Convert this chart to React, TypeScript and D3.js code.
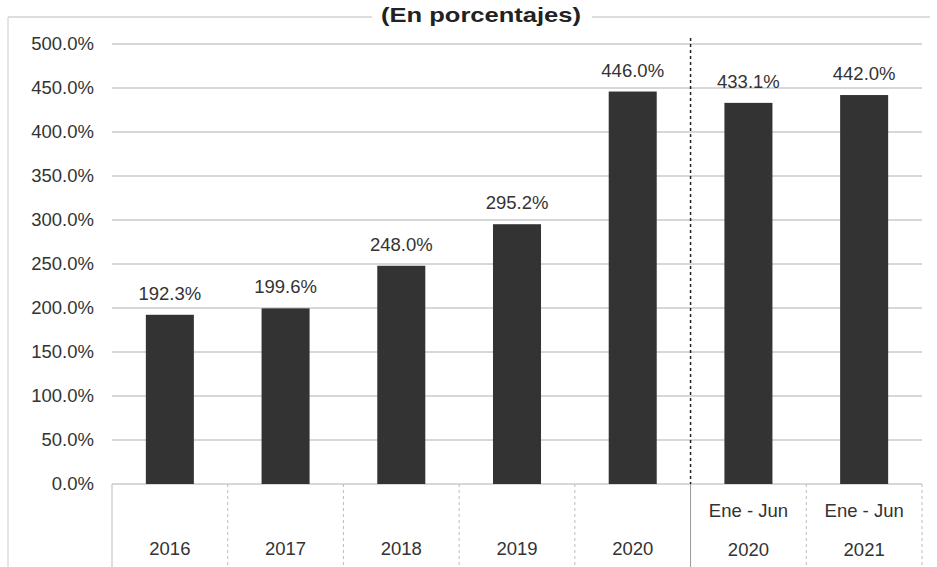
import React from "react";
import * as d3 from "d3";

const categories = ["2016", "2017", "2018", "2019", "2020", "Ene - Jun|2020", "Ene - Jun|2021"];
const values = [192.3, 199.6, 248.0, 295.2, 446.0, 433.1, 442.0];
const yTicks = [0, 50, 100, 150, 200, 250, 300, 350, 400, 450, 500];
const title = "(En porcentajes)";

export default function App() {
  const W = 937, H = 567;
  const left = 112, right = 922, top = 44, bottom = 484;
  const x = d3.scaleBand<string>().domain(categories).range([left, right]).paddingInner(0.585).paddingOuter(0.2925);
  const band = (right - left) / categories.length;
  const y = d3.scaleLinear().domain([0, 500]).range([bottom, top]);
  const font = "'Liberation Sans', Arial, sans-serif";
  const fs = 18.5;
  const bounds = d3.range(categories.length + 1).map((i) => left + i * band);
  return (
    <svg width={W} height={H} style={{ position: "absolute", left: 0, top: 0 }}>
      <rect width={W} height={H} fill="#fff" />
      <line x1={8} x2={372} y1={17} y2={17} stroke="#bbb" strokeWidth={1} />
      <line x1={592} x2={930} y1={17} y2={17} stroke="#bbb" strokeWidth={1} />
      <line x1={8} x2={8} y1={17} y2={567} stroke="#ccc" strokeWidth={1} />
      <text x={481} y={22} textAnchor="middle" fontFamily={font} fontWeight="bold" fontSize={21} fill="#222" textLength={200} lengthAdjust="spacingAndGlyphs">{title}</text>
      {yTicks.map((t) => (
        <g key={t}>
          <line x1={left} x2={right} y1={y(t)} y2={y(t)} stroke="#b0b0b0" strokeWidth={1} />
          <text x={94} y={y(t) + 6} textAnchor="end" fontFamily={font} fontSize={fs} fill="#333">{t.toFixed(1)}%</text>
        </g>
      ))}
      {categories.map((c, i) => (
        <g key={c}>
          <rect x={x(c)} y={y(values[i])} width={x.bandwidth()} height={y(0) - y(values[i])} fill="#333" />
          <text x={(x(c) as number) + x.bandwidth() / 2} y={y(values[i]) - 15} textAnchor="middle" fontFamily={font} fontSize={fs} fill="#333">{values[i].toFixed(1)}%</text>
        </g>
      ))}
      <line x1={bounds[5]} x2={bounds[5]} y1={38} y2={bottom} stroke="#222" strokeWidth={1.5} strokeDasharray="3,3" />
      {bounds.map((b, i) => (
        <line key={i} x1={b} x2={b} y1={bottom} y2={H} stroke={i === 5 ? "#999" : "#bbb"} strokeWidth={1} strokeDasharray={i === 5 || i === 0 ? undefined : "3,3"} />
      ))}
      {categories.map((c, i) => {
        const parts = c.split("|");
        const cx = left + band * (i + 0.5);
        return parts.length === 2 ? (
          <g key={c}>
            <text x={cx} y={517} textAnchor="middle" fontFamily={font} fontSize={fs} fill="#333">{parts[0]}</text>
            <text x={cx} y={556} textAnchor="middle" fontFamily={font} fontSize={fs} fill="#333">{parts[1]}</text>
          </g>
        ) : (
          <text key={c} x={cx} y={555} textAnchor="middle" fontFamily={font} fontSize={fs} fill="#333">{parts[0]}</text>
        );
      })}
    </svg>
  );
}
